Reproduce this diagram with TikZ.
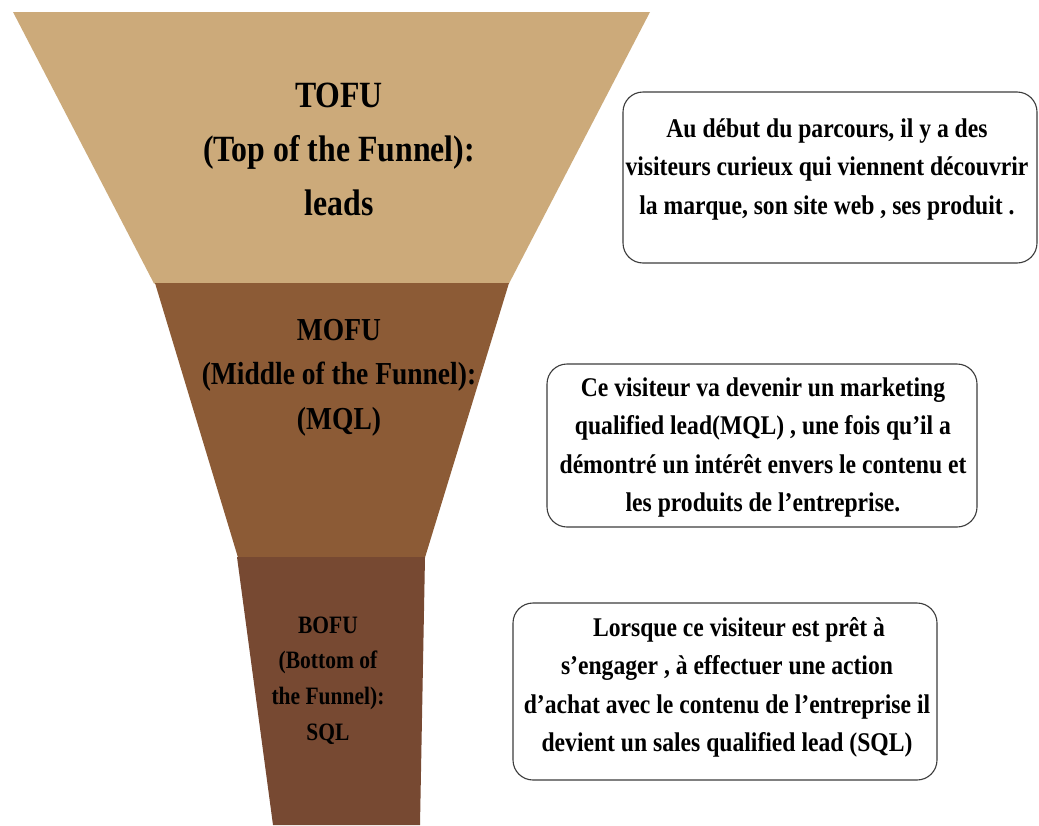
\documentclass[tikz,border=0pt]{standalone}
\usepackage{fontspec}
\newfontfamily\condserif{Liberation Serif}[FakeStretch=0.86]
\newfontfamily\boxserif{Liberation Serif}[FakeStretch=0.875]
\definecolor{tofucol}{RGB}{204,170,122}
\definecolor{mofucol}{RGB}{140,91,54}
\definecolor{bofucol}{RGB}{119,73,50}
\definecolor{boxline}{RGB}{60,60,60}
\tikzset{
  stage/.style={inner sep=0pt, anchor=base, text=black},
  infobox/.style={draw=boxline, line width=1.1pt, rounded corners=20pt, fill=white},
  infotext/.style={inner sep=0pt, anchor=base, text=black,
    font=\boxserif\bfseries\fontsize{27}{38.5}\selectfont},
}
\newcommand{\lines}[1]{\begin{tabular}[t]{@{}c@{}}#1\end{tabular}}
\begin{document}
\begin{tikzpicture}[x=1pt, y=-1pt]
  \useasboundingbox (0,0) rectangle (1039,825);
  \fill[white] (0,0) rectangle (1039,825);

  % funnel sections
  \fill[tofucol] (13,12) -- (650,12) -- (509,283.5) -- (154,283.5) -- cycle;
  \fill[mofucol] (155,283) -- (509,283) -- (425,557.5) -- (238,557.5) -- cycle;
  \fill[bofucol] (237,557) -- (425,557) -- (420,825) -- (273,825) -- cycle;

  % stage labels
  \node[stage, font=\condserif\bfseries\fontsize{37}{54}\selectfont] (tofu) at (339,107)
    {\lines{TOFU\\(Top of the Funnel):\\leads}};
  \node[stage, font=\condserif\bfseries\fontsize{32}{44.5}\selectfont] (mofu) at (339,340)
    {\lines{MOFU\\(Middle of the Funnel):\\(MQL)}};
  \node[stage, font=\condserif\bfseries\fontsize{25}{35.7}\selectfont] (bofu) at (328,633)
    {\lines{BOFU\\(Bottom of\\the Funnel):\\SQL}};

  % description boxes
  \draw[infobox] (623,92) rectangle (1037,263);
  \draw[infobox] (547,364) rectangle (977,527);
  \draw[infobox] (513,603) rectangle (937,780);

  \node[infotext] (desc1) at (827,137)
    {\lines{Au début du parcours, il y a des\\visiteurs curieux qui viennent découvrir\\la marque, son site web , ses produit .}};
  \node[infotext] (desc2) at (763,396)
    {\lines{Ce visiteur va devenir un marketing\\qualified lead(MQL) , une fois qu’il a\\démontré un intérêt envers le contenu et\\les produits de l’entreprise.}};
  \node[infotext] (desc3) at (727,636)
    {\lines{\hspace*{24pt}Lorsque ce visiteur est prêt à\\s’engager , à effectuer une action\\d’achat avec le contenu de l’entreprise il\\devient un sales qualified lead (SQL)}};
\end{tikzpicture}
\end{document}
